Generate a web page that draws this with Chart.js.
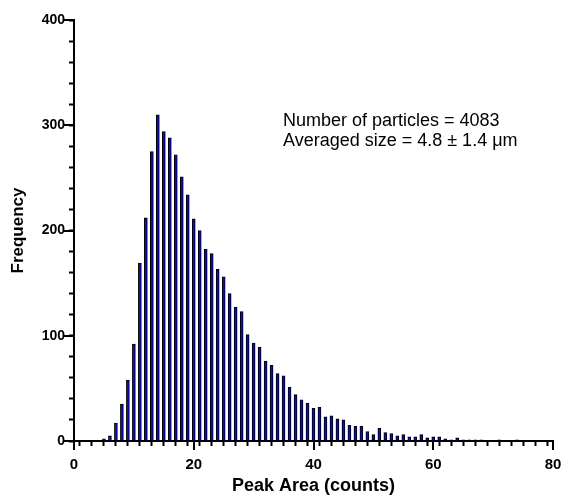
<!DOCTYPE html>
<html>
<head>
<meta charset="utf-8">
<script src="https://cdn.jsdelivr.net/npm/chart.js@4.4.1/dist/chart.umd.min.js"></script>
<style>
  html, body { margin: 0; padding: 0; background: #fff; }
  #wrap { width: 561px; height: 497px; }
</style>
</head>
<body>
<div id="wrap"><canvas id="histo"></canvas></div>
<script>
// bin centres (peak area, counts) and how many particles fell in each
const bins = [
  5, 6, 7, 8, 9, 10, 11, 12, 13, 14,
  15, 16, 17, 18, 19, 20, 21, 22, 23, 24,
  25, 26, 27, 28, 29, 30, 31, 32, 33, 34,
  35, 36, 37, 38, 39, 40, 41, 42, 43, 44,
  45, 46, 47, 48, 49, 50, 51, 52, 53, 54,
  55, 56, 57, 58, 59, 60, 61, 62, 63, 64,
  65, 66, 67, 68, 69, 70, 71, 72, 73, 74
];
const freq = [
  2, 5, 17, 35, 58, 92, 169, 212, 275, 310,
  294, 288, 272, 251, 234, 211, 200, 182, 178, 163,
  156, 140, 127, 123, 101, 93, 89, 76, 72, 64,
  62, 51, 44, 39, 36, 31, 32, 23, 24, 21,
  20, 15, 14, 14, 9, 6, 12, 8, 7, 5,
  6, 4, 4, 6, 3, 4, 4, 2, 1, 3,
  1, 1, 1, 1, 0, 0, 1, 0, 0, 1
];
const xLabels = [0, 20, 40, 60, 80];
const yLabels = [0, 100, 200, 300, 400];
const notes = ['Number of particles = 4083', 'Averaged size = 4.8 \u00b1 1.4 \u03bcm'];

const FONT = 'Liberation Sans, Arial, Helvetica, sans-serif';

// longer tick marks for the labelled values
const majorTicks = {
  id: 'majorTicks',
  afterDraw(chart) {
    const ctx = chart.ctx;
    const xs = chart.scales.x, ys = chart.scales.y;
    ctx.save();
    ctx.strokeStyle = '#000';
    ctx.lineWidth = 2;
    xLabels.forEach(v => {
      const px = Math.round(xs.getPixelForValue(v));
      ctx.beginPath();
      ctx.moveTo(px, xs.top);
      ctx.lineTo(px, xs.top + 9);
      ctx.stroke();
    });
    yLabels.forEach(v => {
      const py = Math.round(ys.getPixelForValue(v));
      ctx.beginPath();
      ctx.moveTo(ys.right, py);
      ctx.lineTo(ys.right - 10, py);
      ctx.stroke();
    });
    ctx.restore();
  }
};

const noteText = {
  id: 'noteText',
  afterDraw(chart) {
    const ctx = chart.ctx;
    const xs = chart.scales.x, ys = chart.scales.y;
    ctx.save();
    ctx.fillStyle = '#000';
    ctx.font = '18px ' + FONT;
    ctx.textBaseline = 'alphabetic';
    const x0 = xs.getPixelForValue(34.9);
    const y0 = ys.getPixelForValue(299);
    notes.forEach((t, i) => ctx.fillText(t, x0, y0 + i * 20));
    ctx.restore();
  }
};

const data = {
  datasets: [{
    label: 'Frequency',
    data: bins.map((b, i) => ({ x: b, y: freq[i] })),
    backgroundColor: '#0a0ad0',
    borderColor: '#000',
    borderWidth: 1,
    barThickness: 3,
    borderSkipped: 'bottom',
  }]
};

const config = {
  type: 'bar',
  data: data,
  options: {
    responsive: true,
    maintainAspectRatio: false,
    animation: false,
    layout: { padding: { top: 20, right: 8, left: 0, bottom: 0 } },
    plugins: {
      legend: { display: false },
      tooltip: { enabled: false },
    },
    scales: {
      x: {
        type: 'linear',
        offset: false,
        min: 0,
        max: 80,
        border: { color: '#000', width: 2 },
        grid: { drawOnChartArea: false, tickLength: 5, tickColor: '#000', tickWidth: 2 },
        ticks: {
          stepSize: 2,
          autoSkip: false,
          maxRotation: 0,
          padding: 10,
          color: '#000',
          font: { family: FONT, size: 15, weight: 'bold' },
          callback: v => (xLabels.includes(v) ? v : ''),
        },
        title: {
          display: true,
          text: 'Peak Area (counts)',
          color: '#000',
          padding: { top: 0, bottom: 0 },
          font: { family: FONT, size: 18, weight: 'bold' },
        },
        afterFit: s => {
          s.height = 56;
          s.paddingLeft = 0;
          s.paddingRight = 0;
        },
      },
      y: {
        min: 0,
        max: 400,
        border: { color: '#000', width: 2 },
        grid: { drawOnChartArea: false, tickLength: 5, tickColor: '#000', tickWidth: 2 },
        ticks: {
          stepSize: 20,
          autoSkip: false,
          padding: 4,
          color: '#000',
          font: { family: FONT, size: 14, weight: 'bold' },
          callback: v => (yLabels.includes(v) ? v : ''),
        },
        title: {
          display: true,
          text: 'Frequency',
          color: '#000',
          padding: { top: 8, bottom: 0 },
          font: { family: FONT, size: 17, weight: 'bold' },
        },
        afterFit: s => { s.width = 74; },
      },
    },
  },
  plugins: [majorTicks, noteText],
};

const histo = new Chart(document.getElementById('histo'), config);
</script>
</body>
</html>
